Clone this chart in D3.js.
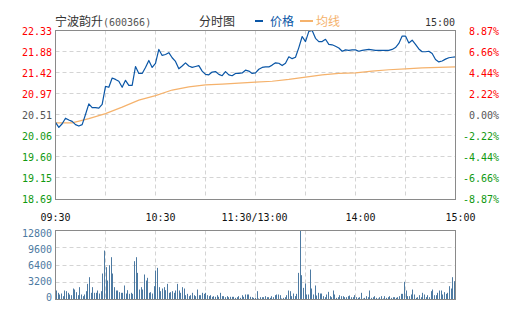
<!DOCTYPE html>
<html>
<head>
<meta charset="utf-8">
<script src="https://cdn.jsdelivr.net/npm/d3@7"></script>
<style>
  html, body { margin: 0; padding: 0; background: #fff; }
  svg { display: block; }
</style>
</head>
<body>
<svg id="chart" width="505" height="330"></svg>
<script>
// ---- data ----
const stockName = "宁波韵升";
const stockCode = "(600366)";
const prevClose = 20.51;

const priceTicks = ["22.33", "21.88", "21.42", "20.97", "20.51", "20.06", "19.60", "19.15", "18.69"];
const pctTicks = ["8.87%", "6.66%", "4.44%", "2.22%", "0.00%", "-2.22%", "-4.44%", "-6.66%", "-8.87%"];
const timeLabels = ["09:30", "10:30", "11:30/13:00", "14:00", "15:00"];
const timeMinutes = [0, 60, 120, 180, 240];
const volumeTicks = [12800, 9600, 6400, 3200, 0];

// last price, one reading every two trading minutes (121 readings)
const prices = [
  20.34, 20.23, 20.31, 20.43, 20.39, 20.36, 20.29, 20.26, 20.29, 20.51,
  20.74, 20.66, 20.66, 20.65, 20.73, 21.12, 21.10, 21.30, 21.27, 21.23,
  21.10, 21.25, 21.14, 21.14, 21.55, 21.40, 21.40, 21.53, 21.68, 21.53,
  21.62, 21.92, 21.79, 21.81, 21.85, 21.74, 21.66, 21.50, 21.56, 21.63,
  21.56, 21.53, 21.55, 21.57, 21.45, 21.38, 21.37, 21.43, 21.44, 21.38,
  21.35, 21.44, 21.37, 21.35, 21.40, 21.40, 21.41, 21.47, 21.45, 21.40,
  21.41, 21.49, 21.53, 21.54, 21.54, 21.58, 21.63, 21.62, 21.57, 21.62,
  21.76, 21.72, 21.75, 21.96, 22.20, 22.09, 22.31, 22.33, 22.16, 22.09,
  22.09, 22.14, 22.03, 22.02, 21.99, 21.95, 21.88, 21.91, 21.90, 21.91,
  21.91, 21.88, 21.90, 21.91, 21.92, 21.91, 21.90, 21.90, 21.90, 21.90,
  21.90, 21.92, 21.96, 22.05, 22.21, 22.21, 22.06, 22.12, 22.03, 21.93,
  21.87, 21.87, 21.88, 21.83, 21.70, 21.65, 21.67, 21.71, 21.74, 21.75,
  21.76
];

// average price, one reading every ten trading minutes (25 readings)
const avgPrices = [
  20.33, 20.33, 20.42, 20.53, 20.67, 20.82, 20.92, 21.04, 21.11, 21.15,
  21.17, 21.19, 21.21, 21.23, 21.27, 21.32, 21.37, 21.40, 21.41, 21.45,
  21.48, 21.50, 21.52, 21.53, 21.54
];

// volume per minute (lots)
const volumes = [
  1670, 1240, 930, 1110, 620, 1670, 1545, 1240, 930, 800,
  2040, 1850, 1360, 800, 2290, 930, 620, 930, 1545, 2900,
  4140, 1240, 2290, 1240, 1240, 1670, 1110, 1545, 4820, 9080,
  6000, 3520, 6370, 7850, 4820, 2290, 1670, 1670, 1360, 1240,
  1240, 2600, 1110, 1730, 1050, 1240, 1050, 7110, 7850, 4940,
  1850, 2290, 1850, 4640, 3520, 4020, 1240, 1360, 1110, 2470,
  5380, 5870, 2290, 1545, 2040, 2290, 1730, 2900, 1240, 1360,
  1545, 1240, 1670, 2900, 1670, 1240, 2290, 2040, 800, 1050,
  620, 800, 1240, 800, 620, 1850, 800, 800, 1240, 1050,
  1240, 800, 620, 800, 500, 620, 500, 800, 500, 1240,
  620, 620, 430, 620, 430, 500, 500, 500, 310, 430,
  620, 310, 800, 500, 930, 930, 930, 500, 430,
  310, 310, 1545, 190, 430, 430, 430, 620, 430, 430,
  310, 620, 430, 800, 930, 930, 800, 190, 310, 430,
  800, 1670, 1545, 620, 1110, 620, 1050, 4940, 12800, 4510,
  2160, 2970, 930, 930, 5560, 2040, 930, 2600, 740, 1240,
  1110, 1110, 620, 430, 930, 1420, 620, 430, 1670, 930,
  310, 430, 800, 620, 620, 430, 430, 620, 740, 430,
  430, 800, 430, 310, 430, 1240, 190, 310, 620, 430,
  1670, 310, 430, 620, 310, 190, 430, 620, 190, 620,
  310, 430, 620, 310, 430, 430, 310, 430, 620, 1050,
  1050, 3280, 1670, 620, 620, 930, 1850, 930, 310, 430,
  800, 430, 1240, 930, 430, 800, 430, 1545, 1850, 800,
  800, 1240, 1670, 1670, 930, 1360, 1050, 1240, 2470, 2040,
  4140, 3400
];

// ---- layout ----
const svg = d3.select("#chart");
const L = 55.5, R = 455.5;
const pTop = 30.5, pBot = 198.5;
const vTop = 230.5, vBot = 299.5;

const monoFont = "'DejaVu Sans Mono', 'Liberation Mono', monospace";
const cjkFont = "'Noto Sans CJK SC', 'Noto Sans', sans-serif";
const RED = "#ff0000", GREEN = "#119911", NEUTRAL = "#555555";
const PRICE_COLOR = "#0a56a6", AVG_COLOR = "#f5b26c", VOL_COLOR = "#4d7aa2";
const GRID = "#d4d4d4", FRAME = "#8a8a8a";

const x = d3.scaleLinear().domain([0, 240]).range([L, R]);
const y = d3.scaleLinear()
  .domain([+priceTicks[priceTicks.length - 1], +priceTicks[0]])
  .range([pBot, pTop]);
const tickY = d3.scalePoint().domain(priceTicks).range([pTop, pBot]);
const yVol = d3.scaleLinear().domain([0, volumeTicks[0]]).range([vBot, vTop]);
const volLabelY = d3.scaleLinear().domain([volumeTicks[0], 0]).range([237, 300.5]);
const xBand = d3.scaleBand().domain(d3.range(volumes.length)).range([L + 0.5, R]);

const snap = v => Math.round(v - 0.5) + 0.5;

// ---- header ----
svg.append("text").attr("x", 55).attr("y", 26)
  .attr("font-family", cjkFont).attr("font-size", 12).attr("fill", "#333")
  .text(stockName);
svg.append("text").attr("x", 103).attr("y", 25.5)
  .attr("font-family", monoFont).attr("font-size", 10).attr("fill", "#555")
  .text(stockCode);
svg.append("text").attr("x", 199).attr("y", 26)
  .attr("font-family", cjkFont).attr("font-size", 12).attr("fill", "#333")
  .text("分时图");

// legend
svg.append("rect").attr("x", 255).attr("y", 20).attr("width", 8).attr("height", 2).attr("fill", PRICE_COLOR);
svg.append("text").attr("x", 270).attr("y", 26)
  .attr("font-family", cjkFont).attr("font-size", 12).attr("fill", PRICE_COLOR).text("价格");
svg.append("rect").attr("x", 300).attr("y", 20).attr("width", 13).attr("height", 2).attr("fill", AVG_COLOR);
svg.append("text").attr("x", 316).attr("y", 26)
  .attr("font-family", cjkFont).attr("font-size", 12).attr("fill", AVG_COLOR).text("均线");

svg.append("text").attr("x", 455).attr("y", 25.5).attr("text-anchor", "end")
  .attr("font-family", monoFont).attr("font-size", 10).attr("fill", "#333")
  .text(timeLabels[timeLabels.length - 1]);

// ---- price panel grid ----
const gridG = svg.append("g").attr("stroke", GRID).attr("stroke-dasharray", "4,3").attr("fill", "none");
priceTicks.slice(1, -1).forEach(t => {
  const yy = snap(tickY(t));
  gridG.append("line").attr("x1", L).attr("x2", R).attr("y1", yy).attr("y2", yy);
});
d3.range(30, 240, 30).forEach(m => {
  const xx = snap(x(m));
  gridG.append("line").attr("x1", xx).attr("x2", xx).attr("y1", pTop).attr("y2", pBot);
  gridG.append("line").attr("x1", xx).attr("x2", xx).attr("y1", vTop).attr("y2", vBot);
});
volumeTicks.slice(1, -1).forEach(v => {
  const yy = snap(yVol(v));
  gridG.append("line").attr("x1", L).attr("x2", R).attr("y1", yy).attr("y2", yy);
});

// price axis labels (left) and percent labels (right)
const colorFor = v => v > 1e-9 ? RED : (v < -1e-9 ? GREEN : NEUTRAL);
svg.append("g").selectAll("text").data(priceTicks).join("text")
  .attr("x", 52).attr("y", d => tickY(d) + 4.5).attr("text-anchor", "end")
  .attr("font-family", monoFont).attr("font-size", 10)
  .attr("fill", d => colorFor(+d - prevClose))
  .text(d => d);
svg.append("g").selectAll("text").data(pctTicks).join("text")
  .attr("x", 499).attr("y", (d, i) => tickY(priceTicks[i]) + 4.5).attr("text-anchor", "end")
  .attr("font-family", monoFont).attr("font-size", 10)
  .attr("fill", d => colorFor(parseFloat(d)))
  .text(d => d);

// time labels
const labelShift = [0, 5, -1, 5, 5];
svg.append("g").selectAll("text").data(timeLabels).join("text")
  .attr("x", (d, i) => x(timeMinutes[i]) + labelShift[i]).attr("y", 220.5)
  .attr("text-anchor", "middle")
  .attr("font-family", monoFont).attr("font-size", 10).attr("fill", "#111")
  .text(d => d);

// volume axis labels
svg.append("g").selectAll("text").data(volumeTicks).join("text")
  .attr("x", 52).attr("y", d => volLabelY(d)).attr("text-anchor", "end")
  .attr("font-family", monoFont).attr("font-size", 10).attr("fill", VOL_COLOR)
  .text(d => d);

// ---- lines ----
const avgLine = d3.line().x((d, i) => x(i * 10)).y(d => y(d));
svg.append("path").datum(avgPrices)
  .attr("d", avgLine).attr("fill", "none")
  .attr("stroke", AVG_COLOR).attr("stroke-width", 1.2);

const priceLine = d3.line().x((d, i) => x(i * 2)).y(d => y(d));
svg.append("path").datum(prices)
  .attr("d", priceLine).attr("fill", "none")
  .attr("stroke", PRICE_COLOR).attr("stroke-width", 1.2)
  .attr("stroke-linejoin", "round");

// ---- volume bars ----
svg.append("g").selectAll("rect").data(volumes).join("rect")
  .attr("x", (d, i) => Math.round(xBand(i)))
  .attr("width", 1)
  .attr("y", d => yVol(Math.min(d, volumeTicks[0])))
  .attr("height", d => vBot - yVol(Math.min(d, volumeTicks[0])))
  .attr("fill", VOL_COLOR);

// ---- frames ----
svg.append("rect").attr("x", L).attr("y", pTop).attr("width", R - L).attr("height", pBot - pTop + 1)
  .attr("fill", "none").attr("stroke", FRAME);
svg.append("rect").attr("x", L).attr("y", vTop).attr("width", R - L).attr("height", vBot - vTop)
  .attr("fill", "none").attr("stroke", FRAME);
</script>
</body>
</html>
